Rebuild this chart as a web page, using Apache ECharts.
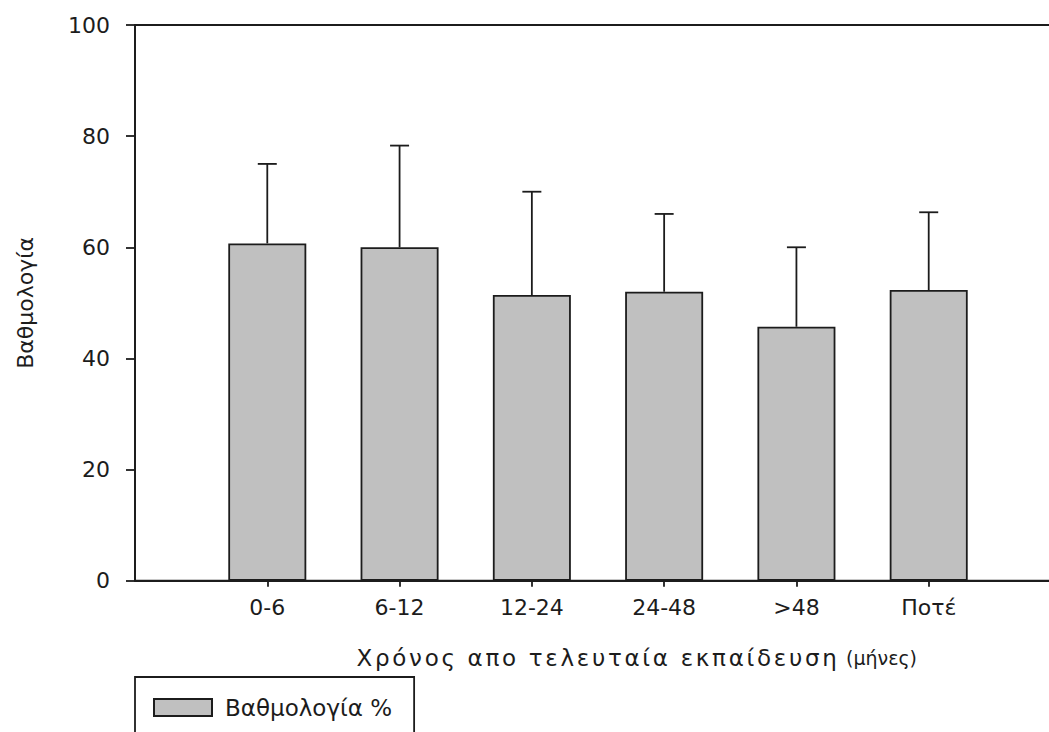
<!DOCTYPE html>
<html><head><meta charset="utf-8">
<script src="https://cdn.jsdelivr.net/npm/echarts@6/dist/echarts.min.js"></script>
<style>html,body{margin:0;padding:0;background:#fff;overflow:hidden}#c{width:1049px;height:732px}</style>
</head><body><div id="c"></div>
<script>
// ---- data ----
const categories = ['0-6', '6-12', '12-24', '24-48', '>48', 'Ποτέ'];
const meanValues = [60.7, 60.0, 51.4, 52.0, 45.7, 52.3];
const sdValues   = [14.3, 18.3, 18.6, 14.0, 14.3, 14.0];
const yTicks = [0, 20, 40, 60, 80, 100];
const seriesName = 'Βαθμολογία %';
const xAxisTitle = 'Χρόνος απο τελευταία εκπαίδευση';
const xAxisUnit = '(μήνες)';
const yAxisTitle = 'Βαθμολογία';

// ---- styling ----
const FONT = "'DejaVu Sans', sans-serif";
const INK = '#1c1c1c';
const LW = 1.8;
const xData = [''].concat(categories, [' ']);
const barData = meanValues.map((v, i) => [i + 1, v]);
const errData = meanValues.map((v, i) => [i + 1, v, sdValues[i]]);

const chart = echarts.init(document.getElementById('c'), null, {renderer: 'svg'});
chart.setOption({
  animation: false,
  backgroundColor: '#fff',
  title: {
    text: xAxisUnit, left: 846, top: 648, padding: 0,
    textStyle: {fontFamily: FONT, fontSize: 19, fontWeight: 'normal', color: INK}
  },
  grid: {
    left: 135, top: 25, width: 926, height: 555.7,
    containLabel: false, outerBoundsMode: 'none',
    show: true, borderColor: INK, borderWidth: LW, backgroundColor: 'transparent'
  },
  legend: {
    data: [seriesName], left: 135, top: 677, orient: 'horizontal',
    padding: [19, 22, 40, 18], itemWidth: 58, itemHeight: 17, icon: 'rect',
    borderColor: INK, borderWidth: LW, backgroundColor: '#fff',
    textStyle: {fontFamily: FONT, fontSize: 23, color: INK, padding: [0, 0, 0, 8]},
    selectedMode: false
  },
  xAxis: {
    type: 'category', data: xData, boundaryGap: false,
    name: xAxisTitle, nameLocation: 'middle', nameGap: 66,
    nameTextStyle: {fontFamily: FONT, fontSize: 23, color: INK},
    axisLine: {show: true, lineStyle: {color: INK, width: LW}},
    axisTick: {show: true, length: 6, inside: false, lineStyle: {color: INK, width: LW},
               interval: (idx) => idx > 0 && idx < xData.length - 1},
    axisLabel: {fontFamily: FONT, fontSize: 22, color: INK, margin: 16, interval: 0},
    splitLine: {show: false}
  },
  yAxis: {
    type: 'value', min: yTicks[0], max: yTicks[yTicks.length - 1], interval: yTicks[1] - yTicks[0],
    name: yAxisTitle, nameLocation: 'middle', nameGap: 99, nameRotate: 90,
    nameTextStyle: {fontFamily: FONT, fontSize: 22, color: INK},
    axisLine: {show: true, lineStyle: {color: INK, width: LW}},
    axisTick: {show: true, length: 9, inside: false, lineStyle: {color: INK, width: LW}},
    axisLabel: {fontFamily: FONT, fontSize: 22, color: INK, margin: 25},
    splitLine: {show: false}
  },
  series: [
    {
      name: seriesName, type: 'bar', data: barData, barWidth: 78,
      itemStyle: {color: '#c0c0c0', borderColor: INK, borderWidth: LW},
      z: 2
    },
    {
      name: 'sd', type: 'custom', data: errData, z: 3,
      renderItem: function (params, api) {
        const x = api.value(0), m = api.value(1), s = api.value(2);
        const p0 = api.coord([x, m]);
        const p1 = api.coord([x, m + s]);
        const half = 9.5;
        const st = {stroke: INK, lineWidth: LW};
        return {type: 'group', children: [
          {type: 'line', shape: {x1: p0[0], y1: p0[1], x2: p1[0], y2: p1[1]}, style: st},
          {type: 'line', shape: {x1: p1[0] - half, y1: p1[1], x2: p1[0] + half, y2: p1[1]}, style: st}
        ]};
      }
    }
  ]
});

function spaceTitle() {
  document.querySelectorAll('#c svg text').forEach(function (t) {
    if (t.textContent === xAxisTitle) t.setAttribute('letter-spacing', '2.7px');
  });
}
spaceTitle();
chart.on('finished', spaceTitle);
setTimeout(spaceTitle, 50);
</script>
</body></html>
